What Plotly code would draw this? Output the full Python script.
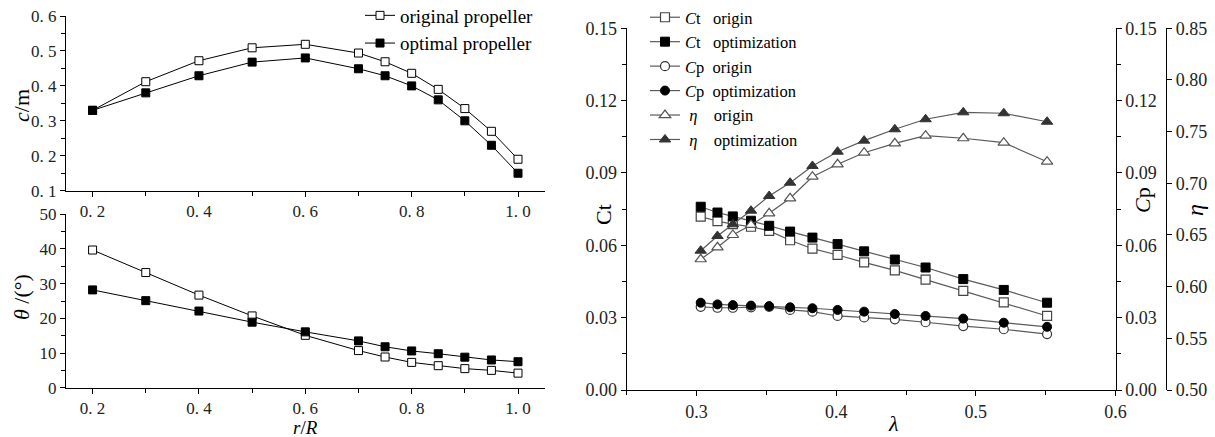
import plotly.graph_objects as go

# ---------------- Left panels data ----------------
r_R = [0.2, 0.3, 0.4, 0.5, 0.6, 0.7, 0.75, 0.8, 0.85, 0.9, 0.95, 1.0]
chord_original = [0.33, 0.412, 0.472, 0.509, 0.519, 0.494, 0.469, 0.436, 0.39, 0.335, 0.27, 0.19]
chord_optimal = [0.33, 0.38, 0.429, 0.468, 0.48, 0.449, 0.429, 0.40, 0.36, 0.30, 0.23, 0.15]
pitch_original = [39.7, 33.2, 26.7, 20.7, 15.1, 10.7, 8.85, 7.3, 6.35, 5.5, 5.0, 4.2]
pitch_optimal = [28.2, 25.1, 22.1, 18.9, 16.1, 13.5, 11.8, 10.6, 9.8, 8.8, 8.0, 7.5]

# ---------------- Right panel data ----------------
lam = [0.303, 0.315, 0.326, 0.339, 0.352, 0.367, 0.383, 0.401, 0.420, 0.442, 0.464, 0.491, 0.520, 0.551]
ct_origin = [0.0719, 0.0700, 0.0688, 0.0677, 0.0660, 0.0621, 0.0586, 0.0560, 0.0529, 0.0496, 0.0458, 0.0411, 0.0363, 0.0307]
ct_opt = [0.0760, 0.0736, 0.0720, 0.0702, 0.0681, 0.0657, 0.0632, 0.0605, 0.0575, 0.0541, 0.0508, 0.0460, 0.0415, 0.0362]
cp_origin = [0.0345, 0.0341, 0.0341, 0.0343, 0.0345, 0.0332, 0.0325, 0.0307, 0.0301, 0.0293, 0.0281, 0.0265, 0.0252, 0.0232]
cp_opt = [0.0362, 0.0355, 0.0352, 0.0350, 0.0348, 0.0343, 0.0339, 0.0332, 0.0325, 0.0315, 0.0307, 0.0296, 0.0279, 0.0262]
eta_origin = [0.6265, 0.6381, 0.6500, 0.6597, 0.6710, 0.6855, 0.7064, 0.7184, 0.7296, 0.7387, 0.7461, 0.7436, 0.7393, 0.7209]
eta_opt = [0.6348, 0.6490, 0.6603, 0.6735, 0.6877, 0.7006, 0.7168, 0.7306, 0.7413, 0.7523, 0.7620, 0.7687, 0.7678, 0.7596]

left_xticks = [0.2, 0.4, 0.6, 0.8, 1.0]
left_xticktext = ["0. 2", "0. 4", "0. 6", "0. 8", "1. 0"]
chord_ticks = [0.1, 0.2, 0.3, 0.4, 0.5, 0.6]
chord_ticktext = ["0. 1", "0. 2", "0. 3", "0. 4", "0. 5", "0. 6"]
pitch_ticks = [0, 10, 20, 30, 40, 50]
ct_ticks = [0.0, 0.03, 0.06, 0.09, 0.12, 0.15]
ct_ticktext = ["0.00", "0.03", "0.06", "0.09", "0.12", "0.15"]
eta_ticks = [0.50, 0.55, 0.60, 0.65, 0.70, 0.75, 0.80, 0.85]
eta_ticktext = ["0.50", "0.55", "0.60", "0.65", "0.70", "0.75", "0.80", "0.85"]
lam_ticks = [0.3, 0.4, 0.5, 0.6]

W, H = 1215, 437
SERIF = "Liberation Serif, Times New Roman, serif"

def px(x):
    return x / W

def py(y):
    return 1 - y / H

fig = go.Figure()

open_sq = dict(symbol="square", size=8, color="white", line=dict(color="black", width=1))
fill_sq = dict(symbol="square", size=8, color="black", line=dict(color="black", width=1))
lline = dict(color="black", width=1)

fig.add_trace(go.Scatter(x=r_R, y=chord_original, mode="lines+markers", name="original propeller",
                         line=lline, marker=open_sq, xaxis="x", yaxis="y", legend="legend"))
fig.add_trace(go.Scatter(x=r_R, y=chord_optimal, mode="lines+markers", name="optimal propeller",
                         line=lline, marker=fill_sq, xaxis="x", yaxis="y", legend="legend"))
fig.add_trace(go.Scatter(x=r_R, y=pitch_original, mode="lines+markers", showlegend=False,
                         line=lline, marker=open_sq, xaxis="x2", yaxis="y2"))
fig.add_trace(go.Scatter(x=r_R, y=pitch_optimal, mode="lines+markers", showlegend=False,
                         line=lline, marker=fill_sq, xaxis="x2", yaxis="y2"))

gline = dict(color="#5a5a5a", width=1.2)
sp = "\u00a0"
right_series = [
    ("<i>C</i>t" + sp * 3 + "origin", ct_origin, "y3", dict(symbol="square", size=9, color="white", line=dict(color="#444", width=1.2))),
    ("<i>C</i>t" + sp * 3 + "optimization", ct_opt, "y3", dict(symbol="square", size=9, color="black", line=dict(color="black", width=1))),
    ("<i>C</i>p" + sp * 2 + "origin", cp_origin, "y4", dict(symbol="circle", size=9, color="white", line=dict(color="#333", width=1.2))),
    ("<i>C</i>p" + sp * 2 + "optimization", cp_opt, "y4", dict(symbol="circle", size=9, color="black", line=dict(color="black", width=1))),
    (sp + "<i>η</i>" + sp * 4 + "origin", eta_origin, "y5", dict(symbol="triangle-up", size=10, color="white", line=dict(color="#555", width=1.2))),
    (sp + "<i>η</i>" + sp * 4 + "optimization", eta_opt, "y5", dict(symbol="triangle-up", size=10, color="#333", line=dict(color="#333", width=1))),
]
for name, vals, ya, mk in right_series:
    fig.add_trace(go.Scatter(x=lam, y=vals, mode="lines+markers", name=name, line=gline,
                             marker=mk, xaxis="x3", yaxis=ya, legend="legend2"))

tickfont_left = dict(family=SERIF, size=17, color="#222")
tickfont_right = dict(family=SERIF, size=18, color="#222")

base_ax = dict(showgrid=False, zeroline=False, showline=True, linecolor="black", linewidth=1.2,
               ticks="outside", ticklen=5, tickcolor="black", tickwidth=1.2, automargin=False)

lx_dom = [px(66), px(544.6)]
fig.update_layout(
    width=W, height=H, margin=dict(l=0, r=0, t=0, b=0, autoexpand=False),
    paper_bgcolor="white", plot_bgcolor="white",
    font=dict(family=SERIF, color="black"),
    xaxis=dict(**base_ax, domain=lx_dom, anchor="y", range=[0.15, 1.05], tickvals=left_xticks,
               ticktext=left_xticktext, tickfont=tickfont_left,
               minor=dict(tickvals=[0.3, 0.5, 0.7, 0.9], ticklen=4, tickcolor="black", ticks="outside")),
    yaxis=dict(**base_ax, domain=[py(190.7), py(16)], anchor="x", range=[0.1, 0.6], tickvals=chord_ticks,
               ticktext=chord_ticktext, tickfont=tickfont_left,
               minor=dict(dtick=0.05, ticklen=4, tickcolor="black", ticks="outside")),
    xaxis2=dict(**base_ax, domain=lx_dom, anchor="y2", range=[0.15, 1.05], tickvals=left_xticks,
                ticktext=left_xticktext, tickfont=tickfont_left,
                minor=dict(tickvals=[0.3, 0.5, 0.7, 0.9], ticklen=4, tickcolor="black", ticks="outside")),
    yaxis2=dict(**base_ax, domain=[py(387.7), py(214.3)], anchor="x2", range=[0, 50], tickvals=pitch_ticks,
                tickfont=tickfont_left,
                minor=dict(dtick=5, ticklen=4, tickcolor="black", ticks="outside")),
    xaxis3=dict(**base_ax, domain=[px(626.7), px(1115.5)], anchor="y3", range=[0.25, 0.6], tickvals=lam_ticks,
                ticktext=["0.3", "0.4", "0.5", "0.6"], tickfont=tickfont_right,
                minor=dict(dtick=0.05, ticklen=4, tickcolor="black", ticks="outside")),
    yaxis3=dict(**base_ax, domain=[py(390), py(28.3)], anchor="x3", range=[0, 0.15], tickvals=ct_ticks,
                ticktext=ct_ticktext, tickfont=tickfont_right,
                minor=dict(dtick=0.015, ticklen=4, tickcolor="black", ticks="outside")),
    yaxis4=dict(**base_ax, overlaying="y3", side="right", anchor="x3", range=[0, 0.15], tickvals=ct_ticks,
                ticktext=ct_ticktext, tickfont=tickfont_right,
                minor=dict(dtick=0.015, ticklen=4, tickcolor="black", ticks="outside")),
    yaxis5=dict(**base_ax, overlaying="y3", side="right", anchor="free", position=px(1166), range=[0.5, 0.85],
                tickvals=eta_ticks, ticktext=eta_ticktext, tickfont=tickfont_right),
    legend=dict(x=px(360), y=1.008, xanchor="left", yanchor="top", bgcolor="rgba(0,0,0,0)",
                font=dict(family=SERIF, size=19, color="black"), tracegroupgap=0, itemwidth=30),
    legend2=dict(x=px(645), y=1.0, xanchor="left", yanchor="top", bgcolor="rgba(0,0,0,0)",
                 font=dict(family=SERIF, size=16.5, color="black"), tracegroupgap=0, itemwidth=30),
)

ann = [
    dict(text="<i>c</i>/m", x=px(21), y=py(105), textangle=-90, size=22),
    dict(text="<i>θ</i> /(°)", x=px(21), y=py(297), textangle=-90, size=22),
    dict(text="<i>r</i>/<i>R</i>", x=px(305), y=py(427), textangle=0, size=19),
    dict(text="Ct", x=px(603), y=py(215), textangle=-90, size=22),
    dict(text="<i>C</i>p", x=px(1142), y=py(200), textangle=-90, size=22),
    dict(text="<i>η</i>", x=px(1195), y=py(210), textangle=-90, size=24),
    dict(text="<i>λ</i>", x=px(893), y=py(423), textangle=0, size=22),
]
for a in ann:
    fig.add_annotation(text=a["text"], x=a["x"], y=a["y"], xref="paper", yref="paper",
                       xanchor="center", yanchor="middle", showarrow=False, textangle=a["textangle"],
                       font=dict(family=SERIF, size=a["size"], color="black"))

fig.write_html("out.html", config={"displayModeBar": False},
               post_script="document.body.style.margin='0px';")
